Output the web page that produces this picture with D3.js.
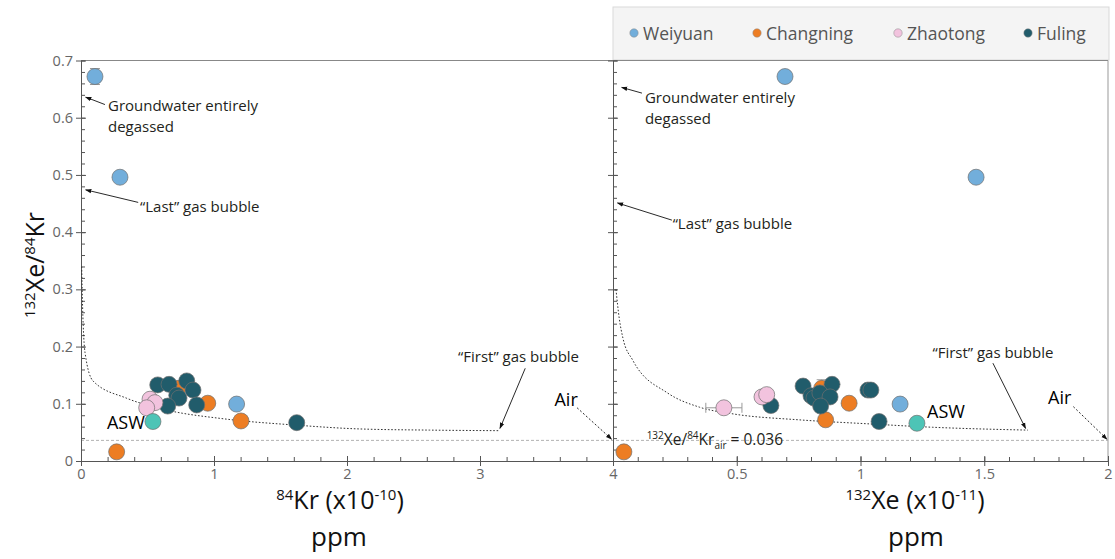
<!DOCTYPE html>
<html>
<head>
<meta charset="utf-8">
<script src="https://cdn.jsdelivr.net/npm/d3@7"></script>
<style>
  body { margin: 0; background: #fff; }
  text { font-family: "Open Sans", sans-serif; }
</style>
</head>
<body>
<svg id="chart" width="1115" height="559"></svg>
<script>
// ---- data: [x, 132Xe/84Kr, xErr, yErr] ----
const groups = ["Weiyuan", "Changning", "Zhaotong", "Fuling"];

// left panel, x = 84Kr (x10^-10 ppm)
const weiyuanKr   = [[0.105, 0.672, 0, 0.014], [0.293, 0.496, 0, 0.008], [1.17, 0.0995, 0, 0]];
const changningKr = [[0.73, 0.127, 0, 0], [0.268, 0.016, 0, 0], [0.953, 0.101, 0, 0], [1.203, 0.070, 0, 0]];
const zhaotongKr  = [[0.519, 0.108, 0, 0], [0.556, 0.102, 0, 0], [0.494, 0.093, 0, 0]];
const fulingKr    = [[0.577, 0.133, 0, 0], [0.662, 0.134, 0, 0], [0.795, 0.140, 0, 0], [0.842, 0.124, 0, 0],
                     [0.72, 0.115, 0, 0], [0.737, 0.110, 0, 0], [0.652, 0.096, 0, 0], [0.87, 0.098, 0, 0],
                     [1.622, 0.067, 0, 0]];
const aswKr       = [[0.541, 0.069]];

// right panel, x = 132Xe (x10^-11 ppm)
const weiyuanXe   = [[0.695, 0.672, 0, 0.01], [1.467, 0.496, 0.02, 0.006], [1.16, 0.0995, 0, 0]];
const changningXe = [[0.843, 0.127, 0, 0.015], [0.044, 0.016, 0, 0], [0.954, 0.101, 0, 0], [0.859, 0.072, 0, 0]];
const zhaotongXe  = [[0.448, 0.093, 0.073, 0.008], [0.602, 0.112, 0, 0], [0.621, 0.116, 0, 0]];
const fulingXe    = [[0.768, 0.131, 0, 0], [0.885, 0.134, 0, 0], [0.80, 0.114, 0, 0], [0.812, 0.110, 0, 0],
                     [0.836, 0.119, 0, 0], [0.877, 0.112, 0, 0], [0.839, 0.096, 0, 0], [0.638, 0.097, 0, 0],
                     [1.03, 0.124, 0, 0], [1.042, 0.124, 0, 0], [1.075, 0.069, 0, 0]];
const aswXe       = [[1.228, 0.066]];

// degassing ("first" gas bubble) curves
const bubbleKr = [[0.005, 0.34], [0.012, 0.27], [0.03, 0.19], [0.09, 0.14], [0.34, 0.11], [0.59, 0.092],
                  [1.1, 0.073], [1.6, 0.063], [2.1, 0.056], [2.62, 0.054], [3.15, 0.053]];
const bubbleXe = [[0.012, 0.30], [0.025, 0.25], [0.04, 0.215], [0.08, 0.176], [0.22, 0.119], [0.35, 0.094],
                  [0.49, 0.082], [0.75, 0.072], [1.03, 0.065], [1.29, 0.059], [1.676, 0.054]];
const airRatio = 0.036;

const yTicks  = [0, 0.1, 0.2, 0.3, 0.4, 0.5, 0.6, 0.7];
const krTicks = [0, 1, 2, 3, 4];
const xeTicks = [0.5, 1, 1.5, 2];

const colors = { Weiyuan: "#72aedb", Changning: "#ed7d23", Zhaotong: "#f2c3de", Fuling: "#215c6b", ASW: "#4dc4b6" };

const svg = d3.select("#chart");
const y = d3.scaleLinear().domain([0, 0.7]).range([461, 60.5]);
const xKr = d3.scaleLinear().domain([0, 4]).range([81, 613]);
const xXe = d3.scaleLinear().domain([0, 2]).range([613, 1108]);

svg.append("defs").append("marker")
  .attr("id", "arrow").attr("viewBox", "0 0 10 10")
  .attr("refX", 9).attr("refY", 5)
  .attr("markerWidth", 7).attr("markerHeight", 7)
  .attr("orient", "auto")
  .append("path").attr("d", "M0,1.5L10,5L0,8.5Z").attr("fill", "#111");

// text with super/subscripts: parts = [[str, "sup"|"sub"|null], ...]
function rich(sel, parts, big, small) {
  let off = 0;
  parts.forEach(p => {
    const target = p[1] === "sup" ? -0.38 * big : p[1] === "sub" ? 0.28 * big : 0;
    sel.append("tspan").text(p[0])
      .attr("font-size", p[1] ? small : big)
      .attr("dy", target - off);
    off = target;
  });
}

// legend (drawn first so the plot frame sits on top of its lower edge)
const legend = svg.append("g");
legend.append("rect").attr("x", 613).attr("y", 7).attr("width", 496).attr("height", 53)
  .attr("fill", "#f4f4f4").attr("stroke", "#d9d9d9");
const legendX = [634, 757, 898, 1028];
groups.forEach((name, i) => {
  legend.append("circle").attr("cx", legendX[i]).attr("cy", 33).attr("r", 4.2)
    .attr("fill", colors[name]).attr("stroke", "#888").attr("stroke-width", 0.5);
  legend.append("text").attr("x", legendX[i] + 9).attr("y", 39.5)
    .attr("font-size", 17.5).attr("fill", "#555").text(name);
});

// frame
svg.append("line").attr("x1", 81).attr("x2", 1108).attr("y1", y(0.7)).attr("y2", y(0.7))
  .attr("stroke", "#888").attr("stroke-width", 1);
svg.append("line").attr("x1", 1108).attr("x2", 1108).attr("y1", y(0.7)).attr("y2", y(0))
  .attr("stroke", "#999").attr("stroke-width", 1);

// air ratio line
svg.append("line").attr("x1", 81).attr("x2", 1108).attr("y1", y(airRatio)).attr("y2", y(airRatio))
  .attr("stroke", "#aaa").attr("stroke-width", 0.9).attr("stroke-dasharray", "3,2");

function styleAxis(g) {
  g.select(".domain").attr("stroke", "#555");
  g.selectAll(".tick line").attr("stroke", "#555");
  g.selectAll(".tick text").attr("fill", "#666").attr("font-size", 14.5)
    .attr("font-family", "'Open Sans', sans-serif");
}

function yAxis(xPos, labels) {
  const minor = d3.range(0, 36).map(i => +(i * 0.02).toFixed(2));
  svg.append("g").attr("transform", `translate(${xPos},0)`)
    .call(d3.axisLeft(y).tickValues(minor).tickSizeInner(-4).tickSizeOuter(0).tickFormat(""))
    .call(styleAxis);
  const g = svg.append("g").attr("transform", `translate(${xPos},0)`)
    .call(d3.axisLeft(y).tickValues(yTicks).tickSizeInner(5).tickSizeOuter(0)
      .tickFormat(labels ? (d => d === 0 ? "0" : d3.format(".1f")(d)) : ""))
    .call(styleAxis);
  g.selectAll(".tick line").attr("x1", 5);
}

function xAxis(scale, majors, step, fmt) {
  const [a, b] = scale.domain();
  const minor = d3.range(0, Math.round((b - a) / step) + 1).map(i => +(a + i * step).toFixed(3));
  svg.append("g").attr("transform", `translate(0,${y(0)})`)
    .call(d3.axisBottom(scale).tickValues(minor).tickSizeInner(-4).tickSizeOuter(0).tickFormat(""))
    .call(styleAxis);
  const g = svg.append("g").attr("transform", `translate(0,${y(0)})`)
    .call(d3.axisBottom(scale).tickValues(majors).tickSizeInner(5).tickSizeOuter(0).tickFormat(fmt))
    .call(styleAxis);
  g.selectAll(".tick line").attr("y1", -5);
}

yAxis(xKr(0), true);
yAxis(xXe(0), false);
xAxis(xKr, krTicks, 0.2, d3.format("d"));
xAxis(xXe, xeTicks, 0.1, d => String(d));

function drawPanel(x, series, asw, curve) {
  const g = svg.append("g");
  g.append("path").datum(curve)
    .attr("d", d3.line().x(d => x(d[0])).y(d => y(d[1])).curve(d3.curveMonotoneX))
    .attr("fill", "none").attr("stroke", "#333").attr("stroke-width", 1)
    .attr("stroke-dasharray", "1.6,1.8");

  // error bars below the markers
  const eb = g.append("g").attr("stroke", "#9a9a9a").attr("stroke-width", 1);
  series.forEach(s => s.values.forEach(d => {
    const cx = x(d[0]), cy = y(d[1]);
    if (d[3]) {
      eb.append("line").attr("x1", cx).attr("x2", cx).attr("y1", y(d[1] - d[3])).attr("y2", y(d[1] + d[3]));
      [d[1] - d[3], d[1] + d[3]].forEach(v =>
        eb.append("line").attr("x1", cx - 5).attr("x2", cx + 5).attr("y1", y(v)).attr("y2", y(v)));
    }
    if (d[2]) {
      eb.append("line").attr("x1", x(d[0] - d[2])).attr("x2", x(d[0] + d[2])).attr("y1", cy).attr("y2", cy);
      [d[0] - d[2], d[0] + d[2]].forEach(v =>
        eb.append("line").attr("x1", x(v)).attr("x2", x(v)).attr("y1", cy - 5).attr("y2", cy + 5));
    }
  }));

  series.concat([{ name: "ASW", values: asw }]).forEach(s => {
    g.append("g").selectAll("circle").data(s.values).join("circle")
      .attr("cx", d => x(d[0])).attr("cy", d => y(d[1])).attr("r", 8)
      .attr("fill", colors[s.name]).attr("stroke", "#6e6e6e").attr("stroke-width", 0.7);
  });
}

// draw order: Changning, Fuling, Zhaotong, Weiyuan
drawPanel(xKr, [
  { name: "Changning", values: changningKr },
  { name: "Fuling", values: fulingKr },
  { name: "Zhaotong", values: zhaotongKr },
  { name: "Weiyuan", values: weiyuanKr }
], aswKr, bubbleKr);
drawPanel(xXe, [
  { name: "Changning", values: changningXe },
  { name: "Fuling", values: fulingXe },
  { name: "Zhaotong", values: zhaotongXe },
  { name: "Weiyuan", values: weiyuanXe }
], aswXe, bubbleXe);

// annotations
function note(x, px, py, lines, opts = {}) {
  const t = svg.append("text").attr("x", x(px)).attr("y", y(py))
    .attr("font-size", opts.size || 15).attr("fill", opts.color || "#231f20")
    .attr("text-anchor", opts.anchor || "start");
  lines.forEach((l, i) => t.append("tspan").attr("x", x(px)).attr("dy", i ? 21 : 0).text(l));
}
function arrow(x, from, to, dashed) {
  svg.append("line")
    .attr("x1", x(from[0])).attr("y1", y(from[1])).attr("x2", x(to[0])).attr("y2", y(to[1]))
    .attr("stroke", "#111").attr("stroke-width", 0.9)
    .attr("stroke-dasharray", dashed ? "2,2" : null)
    .attr("marker-end", "url(#arrow)");
}

// left panel
note(xKr, 0.203, 0.611, ["Groundwater entirely", "degassed"]);
arrow(xKr, [0.18, 0.623], [0.035, 0.636]);
note(xKr, 0.444, 0.435, ["\u201CLast\u201D gas bubble"]);
arrow(xKr, [0.43, 0.452], [0.035, 0.474]);
note(xKr, 3.29, 0.173, ["\u201CFirst\u201D gas bubble"], { anchor: "middle" });
arrow(xKr, [3.34, 0.162], [3.15, 0.057]);
note(xKr, 3.56, 0.096, ["Air"], { size: 18, color: "#000" });
arrow(xKr, [3.73, 0.093], [3.99, 0.038], true);
note(xKr, 0.48, 0.056, ["ASW"], { size: 18, color: "#000", anchor: "end" });

// right panel
note(xXe, 0.129, 0.625, ["Groundwater entirely", "degassed"]);
arrow(xXe, [0.117, 0.643], [0.035, 0.653]);
note(xXe, 0.241, 0.405, ["\u201CLast\u201D gas bubble"]);
arrow(xXe, [0.238, 0.421], [0.018, 0.451]);
note(xXe, 1.535, 0.18, ["\u201CFirst\u201D gas bubble"], { anchor: "middle" });
arrow(xXe, [1.535, 0.171], [1.667, 0.057]);
note(xXe, 1.758, 0.1, ["Air"], { size: 18, color: "#000" });
arrow(xXe, [1.86, 0.095], [1.996, 0.038], true);
note(xXe, 1.269, 0.075, ["ASW"], { size: 18, color: "#000" });

const airLabel = svg.append("text").attr("x", xXe(0.136)).attr("y", y(0.028)).attr("fill", "#231f20");
rich(airLabel, [["132", "sup"], ["Xe/", null], ["84", "sup"], ["Kr", null], ["air", "sub"], [" = 0.036", null]], 15.5, 10);

// axis titles
const yTitle = svg.append("text").attr("transform", "translate(44,265) rotate(-90)")
  .attr("text-anchor", "middle").attr("fill", "#111");
rich(yTitle, [["132", "sup"], ["Xe/", null], ["84", "sup"], ["Kr", null]], 25, 15);

const krTitle = svg.append("text").attr("x", 340).attr("y", 509).attr("text-anchor", "middle").attr("fill", "#111");
rich(krTitle, [["84", "sup"], ["Kr (x10", null], ["-10", "sup"], [")", null]], 25, 15);
svg.append("text").attr("x", 339).attr("y", 546).attr("text-anchor", "middle")
  .attr("font-size", 26).attr("fill", "#111").text("ppm");

const xeTitle = svg.append("text").attr("x", 915).attr("y", 509).attr("text-anchor", "middle").attr("fill", "#111");
rich(xeTitle, [["132", "sup"], ["Xe (x10", null], ["-11", "sup"], [")", null]], 25, 15);
svg.append("text").attr("x", 916).attr("y", 546).attr("text-anchor", "middle")
  .attr("font-size", 26).attr("fill", "#111").text("ppm");
</script>
</body>
</html>
